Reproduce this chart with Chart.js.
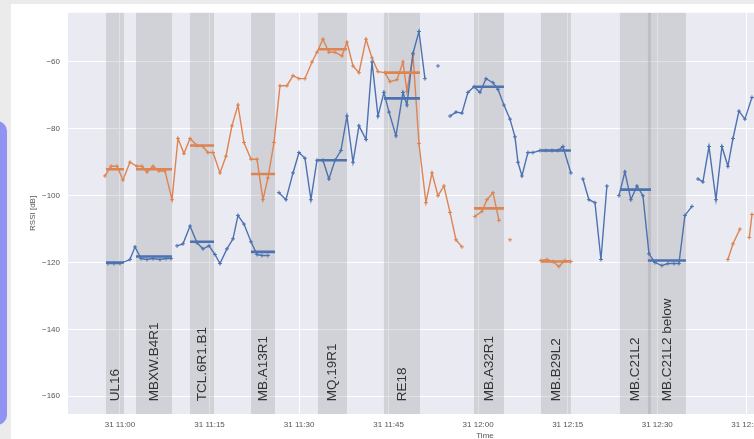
<!DOCTYPE html>
<html>
<head>
<meta charset="utf-8">
<script src="https://cdn.jsdelivr.net/npm/chart.js@4/dist/chart.umd.min.js"></script>
<style>
  html, body { margin: 0; padding: 0; width: 754px; height: 439px; overflow: hidden; background: #ebebeb; }
  #card { position: absolute; left: 11px; top: 4px; width: 780px; height: 460px; background: #ffffff; }
  #tab { position: absolute; left: -20px; top: 121px; width: 27px; height: 304px; background: #8f93f2; border-radius: 10px; }
  #wrap { position: absolute; left: 0; top: 0; width: 910px; height: 450px; }
</style>
</head>
<body>
<div id="card"></div>
<div id="tab"></div>
<div id="wrap"><canvas id="rssi" width="910" height="450"></canvas></div>
<script>
// Received signal strength along the run (date: the 31st)
const blueTimes = [
  "10:57:59","10:59:00","11:00:00","11:01:40","11:02:31","11:03:31","11:04:31","11:05:32","11:06:42","11:07:42","11:08:33","11:09:03",
  "11:09:33","11:10:33","11:11:44","11:12:54","11:13:54","11:14:55","11:15:55","11:16:45","11:17:55","11:18:56","11:19:46","11:20:46",
  "11:21:57","11:22:57","11:23:47","11:24:47","11:25:40",
  "11:26:38","11:27:48","11:28:59","11:29:59","11:30:59","11:31:59","11:33:00","11:34:00","11:35:00","11:36:01","11:37:01","11:38:01",
  "11:39:02","11:40:02","11:41:13","11:42:13","11:43:13","11:44:13","11:45:04","11:46:14","11:47:24","11:48:04","11:49:05","11:50:05",
  "11:51:05","11:52:10","11:53:16","11:54:20",
  "11:55:17","11:56:17","11:57:17","11:58:17","11:59:18","12:00:18","12:01:19","12:02:29","12:03:19","12:04:19","12:05:20","12:06:10",
  "12:06:40","12:07:20","12:08:20","12:09:11","12:10:21","12:11:21","12:12:22","12:13:22","12:14:12","12:15:32","12:16:30",
  "12:17:33","12:18:33","12:19:34","12:20:34","12:21:34","12:22:30",
  "12:23:35","12:24:35","12:25:35","12:26:36","12:27:36","12:28:37","12:29:37","12:30:47","12:31:47","12:32:48","12:33:38","12:34:38",
  "12:35:49","12:36:20",
  "12:36:49","12:37:39","12:38:40","12:39:50","12:40:50","12:41:50","12:42:41","12:43:41","12:44:41","12:45:52"
];
const blueRssi = [
  -120.3,-120.3,-120.3,-119.1,-115.3,-118.8,-119.1,-118.8,-119.1,-118.8,-118.8,null,
  -115.0,-114.4,-109.1,-114.1,-115.9,-115.0,-117.6,-120.3,-115.9,-112.9,-105.9,-108.5,
  -113.8,-117.6,-117.9,-117.9,null,
  -99.1,-101.2,-93.2,-87.1,-88.8,-101.2,-89.4,-89.4,-95.0,-89.4,-86.5,-76.2,
  -90.0,-79.1,-83.2,-60.0,-76.2,-69.1,-75.0,-82.1,-69.1,-72.9,-57.4,-50.9,
  -65.0,null,-61.2,null,
  -76.2,-75.0,-75.3,-69.1,-67.4,-69.1,-65.0,-66.2,-68.2,-72.9,-77.1,-82.4,
  -90.0,-94.1,-87.1,-87.1,-86.5,-86.5,-86.5,-86.5,-85.3,-93.2,null,
  -95.0,-101.2,-102.1,-119.1,-97.1,null,
  -100.0,-92.9,-101.2,-97.1,-100.0,-117.4,-120.0,-120.9,-120.3,-120.3,-120.3,-105.9,
  -103.2,null,
  -95.0,-95.9,-85.3,-101.2,-85.3,-91.2,-82.9,-74.7,-77.1,-70.6
];

const orangeTimes = [
  "10:57:29","10:58:30","10:59:30","11:00:30","11:01:40","11:02:51","11:03:41","11:04:31","11:05:32","11:06:32","11:07:32","11:08:43",
  "11:09:43","11:10:43","11:11:44","11:12:54","11:13:54","11:14:44","11:15:35","11:16:45","11:17:45","11:18:45","11:19:46","11:20:46",
  "11:21:57","11:22:57","11:23:57","11:24:47","11:25:48","11:26:48","11:27:58","11:28:59","11:29:59","11:30:59","11:32:10","11:33:00",
  "11:34:00","11:35:00","11:36:00","11:37:11","11:38:01","11:39:02","11:40:02","11:41:13","11:42:13","11:43:13","11:44:23","11:45:14",
  "11:46:24","11:47:24","11:48:04","11:49:05","11:50:05","11:51:15","11:52:16","11:53:16","11:54:16","11:55:17","11:56:17","11:57:17",
  "11:58:20",
  "11:59:28","12:00:38","12:01:28","12:02:29","12:03:29","12:04:30",
  "12:05:20","12:08:00",
  "12:10:31","12:11:31","12:12:32","12:13:32","12:14:32","12:15:32","12:30:00",
  "12:41:50","12:42:41","12:43:51","12:44:50",
  "12:45:25","12:45:52"
];
const orangeRssi = [
  -94.1,-91.2,-91.2,-95.3,-90.0,-91.2,-91.2,-92.9,-91.2,-92.6,-92.6,-101.2,
  -82.9,-87.4,-82.9,-85.0,-85.3,-87.1,-87.1,-93.2,-88.2,-79.1,-72.9,-84.1,
  -89.1,-89.1,-101.2,-94.7,-84.1,-67.1,-67.1,-64.1,-65.0,-65.0,-60.0,-57.1,
  -53.2,-57.1,-57.1,-58.2,-54.1,-61.2,-63.2,-53.2,-58.8,-62.9,-63.2,-65.9,
  -65.3,-60.0,-68.8,-57.9,-84.4,-102.1,-93.2,-100.0,-97.1,-105.0,-113.2,-115.3,
  null,
  -106.2,-104.7,-101.2,-99.1,-107.4,null,
  -113.2,null,
  -119.4,-119.1,-119.7,-121.2,-119.4,-119.7,null,
  -119.1,-114.4,-110.0,null,
  -112.5,-105.6
];

// Named zones passed along the way, with the mean level of each series inside
const zoneNames  = ["UL16","MBXW.B4R1","TCL.6R1.B1","MB.A13R1","MQ.19R1","RE18","MB.A32R1","MB.B29L2","MB.C21L2","MB.C21L2 below"];
const zoneStart  = ["10:57:39","11:02:41","11:11:44","11:21:57","11:33:10","11:44:13","11:59:18","12:10:31","12:23:45","12:28:26"];
const zoneEnd    = ["11:00:40","11:08:43","11:15:45","11:25:58","11:38:01","11:50:15","12:04:19","12:15:32","12:28:57","12:34:48"];
const blueZoneMean   = [-120.0,-118.2,-113.8,-116.8,-89.4,-70.9,-67.4,-86.5,-98.2,-119.4];
const orangeZoneMean = [-92.1,-92.1,-85.0,-93.5,-56.2,-63.2,-103.8,-119.7,null,null];

const yTicks = [-160,-140,-120,-100,-80,-60];
const xTickTimes = ["11:00","11:15","11:30","11:45","12:00","12:15","12:30","12:45","13:00"];

// minutes after 11:00
function toMin(t) {
  const p = t.split(":").map(Number);
  return p[0] * 60 + p[1] + (p[2] || 0) / 60 - 660;
}
function series(times, values) {
  return times.map((t, i) => ({ x: toMin(t), y: values[i] }));
}
function zoneMeans(means) {
  const pts = [];
  means.forEach((m, i) => {
    if (m === null) return;
    pts.push({ x: toMin(zoneStart[i]), y: m }, { x: toMin(zoneEnd[i]), y: m });
    pts.push({ x: toMin(zoneEnd[i]) + 0.01, y: null });
  });
  return pts;
}

const BLUE = "#4c72b0", ORANGE = "#dd8452";
const tickFont = { family: "'Liberation Sans', Arial, sans-serif", size: 8 };

const plotBackground = {
  id: "plotBackground",
  beforeDraw(chart) {
    const { ctx, chartArea: a } = chart;
    ctx.save();
    ctx.fillStyle = "#eaeaf2";
    ctx.fillRect(a.left, a.top, a.right - a.left, a.bottom - a.top);
    ctx.restore();
  }
};

const zones = {
  id: "zones",
  beforeDatasetsDraw(chart) {
    const { ctx, chartArea: a, scales: { x } } = chart;
    ctx.save();
    ctx.fillStyle = "rgba(128,128,135,0.24)";
    zoneNames.forEach((n, i) => {
      const x0 = x.getPixelForValue(toMin(zoneStart[i]));
      const x1 = x.getPixelForValue(toMin(zoneEnd[i]));
      ctx.fillRect(x0, a.top, x1 - x0, a.bottom - a.top);
    });
    ctx.restore();
  },
  afterDatasetsDraw(chart) {
    const { ctx, scales: { x, y } } = chart;
    ctx.save();
    ctx.fillStyle = "#333333";
    ctx.font = "13.5px 'Liberation Sans', Arial, sans-serif";
    ctx.textAlign = "left";
    ctx.textBaseline = "middle";
    const base = y.getPixelForValue(-161.5);
    zoneNames.forEach((n, i) => {
      const xc = (x.getPixelForValue(toMin(zoneStart[i])) + x.getPixelForValue(toMin(zoneEnd[i]))) / 2;
      ctx.save();
      ctx.translate(xc, base);
      ctx.rotate(-Math.PI / 2);
      ctx.fillText(n, 0, 0);
      ctx.restore();
    });
    ctx.restore();
  }
};

new Chart(document.getElementById("rssi"), {
  type: "line",
  data: {
    datasets: [
      { label: "blue zone mean", data: zoneMeans(blueZoneMean), borderColor: BLUE, borderWidth: 2.6, pointRadius: 0, spanGaps: false },
      { label: "orange zone mean", data: zoneMeans(orangeZoneMean), borderColor: ORANGE, borderWidth: 2.6, pointRadius: 0, spanGaps: false },
      { label: "blue", data: series(blueTimes, blueRssi), borderColor: BLUE, backgroundColor: BLUE, borderWidth: 1.4,
        pointStyle: "cross", pointRadius: 2, pointBorderWidth: 1, spanGaps: false },
      { label: "orange", data: series(orangeTimes, orangeRssi), borderColor: ORANGE, backgroundColor: ORANGE, borderWidth: 1.4,
        pointStyle: "cross", pointRadius: 2, pointBorderWidth: 1, spanGaps: false }
    ]
  },
  options: {
    responsive: false,
    animation: false,
    layout: { padding: { top: 7, right: 8, left: 0, bottom: 0 } },
    plugins: { legend: { display: false }, tooltip: { enabled: false } },
    scales: {
      x: {
        type: "linear",
        min: -8.71,
        max: 131,
        afterBuildTicks(s) { s.ticks = xTickTimes.map(t => ({ value: toMin(t) })); },
        afterFit(s) { s.height = 36; },
        grid: { color: "#ffffff", lineWidth: 1, drawTicks: false },
        border: { display: false },
        ticks: {
          font: tickFont, color: "#555555", padding: 6, maxRotation: 0, autoSkip: false,
          callback(v) {
            const tot = Math.round(v) + 660;
            const h = Math.floor(tot / 60), m = tot % 60;
            return "31 " + h + ":" + String(m).padStart(2, "0");
          }
        },
        title: { display: true, text: "Time", font: tickFont, color: "#555555", padding: { top: 0, bottom: 9 } }
      },
      y: {
        type: "linear",
        min: -165.3,
        max: -45.3,
        afterBuildTicks(s) { s.ticks = yTicks.map(v => ({ value: v })); },
        afterFit(s) { s.width = 68; },
        grid: { color: "#ffffff", lineWidth: 1, drawTicks: false },
        border: { display: false },
        ticks: {
          font: tickFont, color: "#555555", padding: 8,
          callback(v) { return String(v).replace("-", "\u2212"); }
        },
        title: { display: true, text: "RSSI [dB]", font: tickFont, color: "#555555", padding: { top: 28, bottom: 0 } }
      }
    }
  },
  plugins: [plotBackground, zones]
});
</script>
</body>
</html>
